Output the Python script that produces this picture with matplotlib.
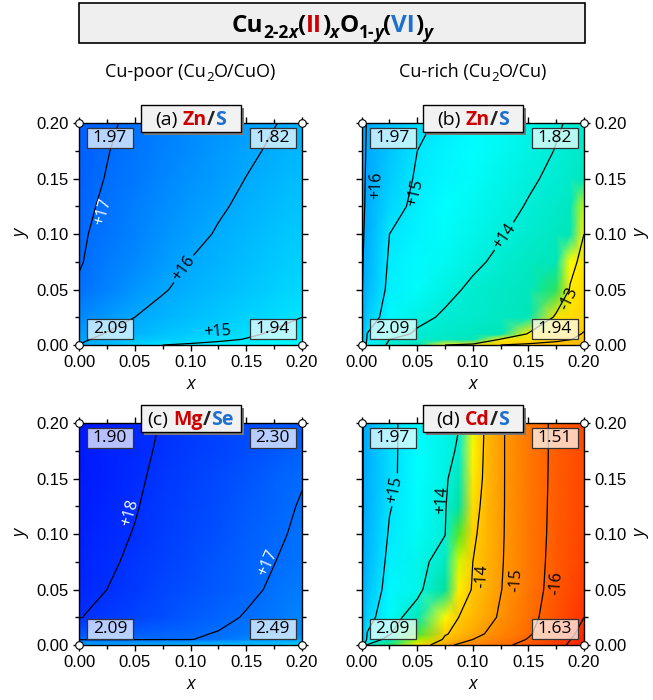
"""Cu2O alloy maps: carrier concentration vs composition (x, y)"""

import numpy as np
import matplotlib
matplotlib.use("Agg")
import matplotlib.pyplot as plt
from matplotlib.patches import Rectangle
from matplotlib.colors import Normalize, LinearSegmentedColormap
from matplotlib.ticker import FormatStrFormatter, MultipleLocator

plt.rcParams["font.family"] = ["Open Sans", "DejaVu Sans"]

W, H = 653, 700
TICK_FONT = "Liberation Sans"
RED = "#cc0000"
BLUE = "#1e6fcf"

# grid (composition x, y) on which the maps were read
y_grid = [0, 0.005, 0.01, 0.025, 0.05, 0.075, 0.1, 0.125, 0.15, 0.175, 0.2]
x_grid_a = [0, 0.005, 0.025, 0.05, 0.075, 0.1, 0.125, 0.15, 0.175, 0.2]
x_grid_b = [0, 0.005, 0.025, 0.05, 0.075, 0.1, 0.125, 0.15, 0.175, 0.1875, 0.2]
x_grid_c = [0, 0.005, 0.025, 0.05, 0.075, 0.1, 0.125, 0.15, 0.175, 0.2]
x_grid_d = [0, 0.005, 0.025, 0.05, 0.075, 0.0875, 0.1, 0.1125, 0.125, 0.15, 0.175, 0.2]

# signed log10 carrier concentration: +p (holes), -n (electrons); rows go up in y
logc_a = [
    [16.00, 15.93, 15.67, 15.33, 15.00, 14.90, 14.80, 14.70, 14.60, 14.50],
    [16.10, 16.05, 15.85, 15.60, 15.42, 15.27, 15.12, 14.97, 14.83, 14.70],
    [16.20, 16.15, 15.97, 15.79, 15.62, 15.45, 15.28, 15.10, 14.93, 14.76],
    [16.50, 16.45, 16.25, 16.00, 15.83, 15.67, 15.50, 15.33, 15.17, 15.00],
    [16.93, 16.87, 16.63, 16.33, 16.04, 15.86, 15.69, 15.53, 15.36, 15.20],
    [17.04, 16.99, 16.77, 16.51, 16.24, 15.98, 15.82, 15.67, 15.51, 15.35],
    [17.08, 17.03, 16.85, 16.62, 16.39, 16.16, 15.95, 15.78, 15.62, 15.45],
    [17.13, 17.09, 16.91, 16.70, 16.49, 16.28, 16.07, 15.89, 15.72, 15.55],
    [17.17, 17.13, 16.98, 16.78, 16.58, 16.39, 16.19, 15.99, 15.82, 15.65],
    [17.21, 17.17, 17.02, 16.84, 16.65, 16.47, 16.28, 16.10, 15.92, 15.75],
    [17.24, 17.21, 17.07, 16.90, 16.72, 16.55, 16.37, 16.20, 16.02, 15.85],
]
logc_b = [
    [16.00, 14.70, 13.86, 13.50, -13.00, -13.50, -14.00, -14.15, -14.30, -14.40, -14.50],
    [16.01, 14.90, 14.00, 13.80, 13.60, 13.40, -13.15, -13.50, -13.80, -13.98, -14.15],
    [16.02, 14.98, 14.33, 13.89, 13.71, 13.53, 13.35, -13.15, -13.60, -13.80, -14.05],
    [16.03, 15.43, 14.65, 14.19, 13.90, 13.72, 13.55, 13.37, -13.30, -13.50, -13.70],
    [16.04, 15.75, 14.82, 14.50, 14.19, 13.87, 13.62, 13.45, 12.60, -13.10, -13.60],
    [16.05, 15.85, 14.91, 14.65, 14.39, 14.13, 13.86, 13.60, 13.35, -12.60, -13.40],
    [16.05, 15.92, 15.00, 14.76, 14.52, 14.29, 14.05, 13.80, 13.50, 13.35, -13.00],
    [16.06, 15.95, 15.25, 14.84, 14.62, 14.40, 14.18, 13.96, 13.70, 13.50, -12.30],
    [16.07, 15.96, 15.41, 14.92, 14.71, 14.50, 14.29, 14.08, 13.88, 13.70, 13.35],
    [16.08, 15.97, 15.54, 15.00, 14.80, 14.59, 14.39, 14.18, 13.98, 13.85, 13.65],
    [16.10, 15.98, 15.61, 15.15, 14.86, 14.66, 14.46, 14.25, 14.05, 13.95, 13.85],
]
logc_c = [
    [16.00, 15.98, 15.90, 15.80, 15.70, 15.60, 15.50, 15.40, 15.30, 15.20],
    [17.05, 17.05, 17.05, 17.04, 17.03, 17.02, 16.85, 16.60, 16.40, 16.20],
    [17.35, 17.34, 17.30, 17.22, 17.14, 17.06, 16.97, 16.80, 16.65, 16.50],
    [18.03, 17.99, 17.85, 17.67, 17.49, 17.31, 17.13, 16.96, 16.78, 16.60],
    [18.13, 18.10, 18.00, 17.82, 17.64, 17.47, 17.29, 17.11, 16.93, 16.75],
    [18.20, 18.17, 18.07, 17.92, 17.74, 17.55, 17.37, 17.19, 17.01, 16.83],
    [18.25, 18.22, 18.12, 17.98, 17.80, 17.62, 17.44, 17.26, 17.08, 16.91],
    [18.30, 18.27, 18.16, 18.03, 17.85, 17.67, 17.50, 17.32, 17.14, 16.96],
    [18.34, 18.31, 18.20, 18.06, 17.91, 17.74, 17.56, 17.39, 17.21, 17.03],
    [18.38, 18.35, 18.24, 18.09, 17.95, 17.80, 17.65, 17.50, 17.35, 17.20],
    [18.41, 18.38, 18.26, 18.12, 17.98, 17.84, 17.69, 17.55, 17.41, 17.27],
]
logc_d = [
    [16.00, 13.94, 12.65, -13.30, -14.77, -15.13, -15.35, -15.57, -15.79, -16.28, -16.81, -17.34],
    [16.01, 14.87, 13.56, 12.00, -14.22, -14.61, -15.00, -15.26, -15.52, -16.05, -16.67, -17.30],
    [16.02, 14.96, 14.09, 12.47, -13.90, -14.34, -14.71, -15.06, -15.34, -15.91, -16.55, -17.21],
    [16.03, 15.30, 14.49, 13.42, -12.76, -14.02, -14.36, -14.74, -15.11, -15.76, -16.39, -17.00],
    [16.04, 15.59, 14.70, 14.30, 12.80, -13.00, -14.13, -14.55, -14.97, -15.67, -16.27, -16.80],
    [16.05, 15.74, 14.81, 14.30, 13.60, -12.33, -14.00, -14.46, -14.93, -15.64, -16.23, -16.70],
    [16.05, 15.82, 14.93, 14.47, 14.02, 12.36, -13.82, -14.43, -14.91, -15.62, -16.20, -16.65],
    [16.05, 15.86, 15.04, 14.56, 14.09, 12.85, -13.56, -14.41, -14.90, -15.62, -16.18, -16.60],
    [16.05, 15.87, 15.15, 14.62, 14.16, 13.42, -13.14, -14.39, -14.90, -15.60, -16.17, -16.60],
    [16.05, 15.87, 15.15, 14.64, 14.21, 13.91, -12.80, -14.39, -14.90, -15.60, -16.16, -16.55],
    [16.05, 15.87, 15.15, 14.65, 14.23, 14.02, -12.44, -14.37, -14.90, -15.60, -16.16, -16.55],
]

# contour lines without a label
plain_a, plain_b, plain_c, plain_d = [], [-14], [], [-17, 16]

# labelled contour lines: (level, label x, label y, label sits on the line)
labels_a = [(17, 0.022, 0.12, False), (16, 0.085, 0.075, True), (15, 0.124, 0.012, False)]
labels_b = [(16, 0.0135, 0.144, False), (15, 0.048, 0.137, False),
            (14, 0.127, 0.099, True), (-13, 0.186, 0.042, False)]
labels_c = [(18, 0.046, 0.119, False), (17, 0.17, 0.074, False)]
labels_d = [(15, 0.03, 0.14, True), (14, 0.072, 0.131, False), (-14, 0.108, 0.062, False),
            (-15, 0.139, 0.059, False), (-16, 0.175, 0.056, False)]

# band gaps (eV) at the corners: top-left, top-right, bottom-left, bottom-right
gaps_a = [1.97, 1.82, 2.09, 1.94]
gaps_b = [1.97, 1.82, 2.09, 1.94]
gaps_c = [1.90, 2.30, 2.09, 2.49]
gaps_d = [1.97, 1.51, 2.09, 1.63]

tags = [("(a)", "Zn", "S"), ("(b)", "Zn", "S"), ("(c)", "Mg", "Se"), ("(d)", "Cd", "S")]
column_titles = [("Cu-poor (Cu", "O/CuO)"), ("Cu-rich (Cu", "O/Cu)")]

VMIN, VMAX = 6.0, 20.0
norm = Normalize(vmin=VMIN, vmax=VMAX)
_stops = [(6.0, (1, 0, 0)), (10.0, (1, 0.8, 0)), (11.4, (1, 1, 0)),
          (12.0, (0.6, 0.95, 0.0)), (12.4, (0.3, 0.9, 0.15)), (12.8, (0, 0.88, 0.62)),
          (14.0, (0, 0.93, 0.85)), (14.6, (0, 1, 1)), (18.8, (0, 0, 1)), (20.0, (0, 0, 0.85))]
cmap = LinearSegmentedColormap.from_list(
    "carrier", [((v - VMIN) / (VMAX - VMIN), c) for v, c in _stops])


def to_v(s):
    """n-type values are folded so that p -> n is continuous for the colour scale"""
    s = np.asarray(s, dtype=float)
    return np.where(s > 0, s, s + 24.0)


def px_axes(fig, l, t, r, b):
    return fig.add_axes([l / W, 1 - b / H, (r - l) / W, (b - t) / H])


def piece(txt, size, color="black", weight="normal", style="normal", dy=0, gap=0):
    kw = dict(fontsize=size, color=color, fontweight=weight, fontstyle=style, zorder=7)
    return (txt, kw, dy, gap)


def rich_text(fig, cx, base, pieces):
    """place coloured / subscripted pieces side by side, centred at cx (pixels)"""
    r = fig.canvas.get_renderer()
    objs, total = [], 0.0
    for txt, kw, dy, gap in pieces:
        t = fig.text(0, 0, txt, ha="left", va="baseline", **kw)
        w = t.get_window_extent(renderer=r).width
        objs.append((t, w, dy, gap))
        total += w + gap
    x = cx - total / 2
    for t, w, dy, gap in objs:
        x += gap
        t.set_position((x / W, 1 - (base + dy) / H))
        x += w


def draw_lines(ax, X, Y, V, plain, labels, white):
    if plain:
        pv = sorted(float(v) for v in to_v(plain))
        ax.contour(X, Y, V, levels=pv, colors="black", linewidths=0.9)
    for inline in (True, False):
        group = [(l, x, y) for l, x, y, f in labels if f == inline]
        if not group:
            continue
        levs = sorted(float(to_v(l)) for l, _, _ in group)
        cs = ax.contour(X, Y, V, levels=levs, colors="black", linewidths=0.9)
        fmt = {float(to_v(l)): f"{l:+d}" for l, _, _ in group}
        ax.clabel(cs, fmt=fmt, fontsize=11.5, inline=inline, inline_spacing=3,
                  manual=[(x, y) for _, x, y in group])
        for t, (l, x, y) in zip(cs.labelTexts, group):
            t.set_color("white" if t.get_text() in white else "black")
            if not inline:
                t.set_position((x, y))


def draw_panel(fig, box, xs, logc, plain, labels, white, gaps, tag, right):
    ax = px_axes(fig, *box)
    X, Y = np.meshgrid(xs, y_grid)
    V = to_v(logc)
    ax.pcolormesh(X, Y, V, shading="gouraud", cmap=cmap, norm=norm)
    draw_lines(ax, X, Y, V, plain, labels, white)

    ax.set_xlim(0, 0.2)
    ax.set_ylim(0, 0.2)
    for axis in (ax.xaxis, ax.yaxis):
        axis.set_major_locator(MultipleLocator(0.05))
        axis.set_minor_locator(MultipleLocator(0.025))
        axis.set_major_formatter(FormatStrFormatter("%.2f"))
    ax.tick_params(which="both", direction="out", top=True, right=True, left=True,
                   labelsize=12, labelfontfamily=TICK_FONT, width=1)
    ax.tick_params(which="major", length=4)
    ax.tick_params(which="minor", length=3)
    if right:
        ax.tick_params(axis="y", labelleft=False, labelright=True)
        ax.yaxis.set_label_position("right")
    ax.set_xlabel("x", fontsize=13, fontstyle="italic", labelpad=3)
    ax.set_ylabel("y", fontsize=13, fontstyle="italic", labelpad=4)
    for sp in ax.spines.values():
        sp.set_linewidth(1)

    # band gap boxes in the corners
    bw, bh = 46 / 223, 20 / 222
    spots_gap = [(0.139, 0.932), (0.869, 0.932), (0.139, 0.072), (0.869, 0.072)]
    for (cx, cy), g in zip(spots_gap, gaps):
        ax.add_patch(Rectangle((cx - bw / 2, cy - bh / 2), bw, bh, transform=ax.transAxes,
                               facecolor=(1, 1, 1, 0.72), edgecolor="#333333", lw=0.9, zorder=5))
        ax.text(cx, cy, f"{g:.2f}", transform=ax.transAxes, ha="center", va="center",
                fontsize=12.5, zorder=6)

    ax.plot([0, 1, 0, 1], [0, 0, 1, 1], "o", transform=ax.transAxes, clip_on=False,
            mfc="white", mec="black", ms=5.5, mew=0.8, zorder=8)

    # panel tag in a shadowed box on the top edge
    l, t, r, b = box
    cx, cy = (l + r) / 2, t - 5
    bw_px, bh_px = 100, 27
    fig.add_artist(Rectangle(((cx - bw_px / 2 + 3) / W, 1 - (cy + bh_px / 2 + 3) / H),
                             bw_px / W, bh_px / H, transform=fig.transFigure,
                             facecolor="#7a7a7a", edgecolor="none", zorder=5))
    fig.add_artist(Rectangle(((cx - bw_px / 2) / W, 1 - (cy + bh_px / 2) / H),
                             bw_px / W, bh_px / H, transform=fig.transFigure,
                             facecolor="#f2f2f2", edgecolor="black", lw=1, zorder=6))
    lab_id, cation, anion = tag
    rich_text(fig, cx, cy + 6.5, [
        piece(lab_id, 14),
        piece(cation, 14, RED, "bold", gap=5),
        piece("/", 14, "#222222", "bold"),
        piece(anion, 14, BLUE, "bold"),
    ])
    return ax


def main():
    fig = plt.figure(figsize=(W / 100, H / 100), dpi=100)

    # title box
    fig.add_artist(Rectangle((79 / W, 1 - 43 / H), (585 - 79) / W, 40 / H,
                             transform=fig.transFigure, facecolor="#efefef",
                             edgecolor="black", lw=1.2, zorder=5))
    big, sub, d = 17.5, 12.5, 5.5
    rich_text(fig, 332, 32, [
        piece("Cu", big, weight="bold"),
        piece("2-2", sub, weight="bold", dy=d),
        piece("x", sub, weight="bold", style="italic", dy=d),
        piece("(", big, weight="bold"),
        piece("II", big, RED, "bold"),
        piece(")", big, weight="bold"),
        piece("x", sub, weight="bold", style="italic", dy=d),
        piece("O", big, weight="bold"),
        piece("1-", sub, weight="bold", dy=d),
        piece("y", sub, weight="bold", style="italic", dy=d),
        piece("(", big, weight="bold"),
        piece("VI", big, BLUE, "bold"),
        piece(")", big, weight="bold"),
        piece("y", sub, weight="bold", style="italic", dy=d),
    ])

    for cx, (pre, post) in zip([190.5, 473], column_titles):
        rich_text(fig, cx, 77, [
            piece(pre, 13),
            piece("2", 9.5, dy=4),
            piece(post, 13),
        ])

    boxes = {"a": (79, 123.3, 302, 345), "b": (361.7, 123.3, 584, 345),
             "c": (79, 423.3, 302, 645), "d": (361.7, 423.3, 584, 645)}

    draw_panel(fig, boxes["a"], x_grid_a, logc_a, plain_a, labels_a, {"+17"},
               gaps_a, tags[0], False)
    draw_panel(fig, boxes["b"], x_grid_b, logc_b, plain_b, labels_b, set(),
               gaps_b, tags[1], True)
    draw_panel(fig, boxes["c"], x_grid_c, logc_c, plain_c, labels_c, {"+17", "+18"},
               gaps_c, tags[2], False)
    draw_panel(fig, boxes["d"], x_grid_d, logc_d, plain_d, labels_d, set(),
               gaps_d, tags[3], True)

    fig.savefig("out.png", dpi=100)


if __name__ == "__main__":
    main()
